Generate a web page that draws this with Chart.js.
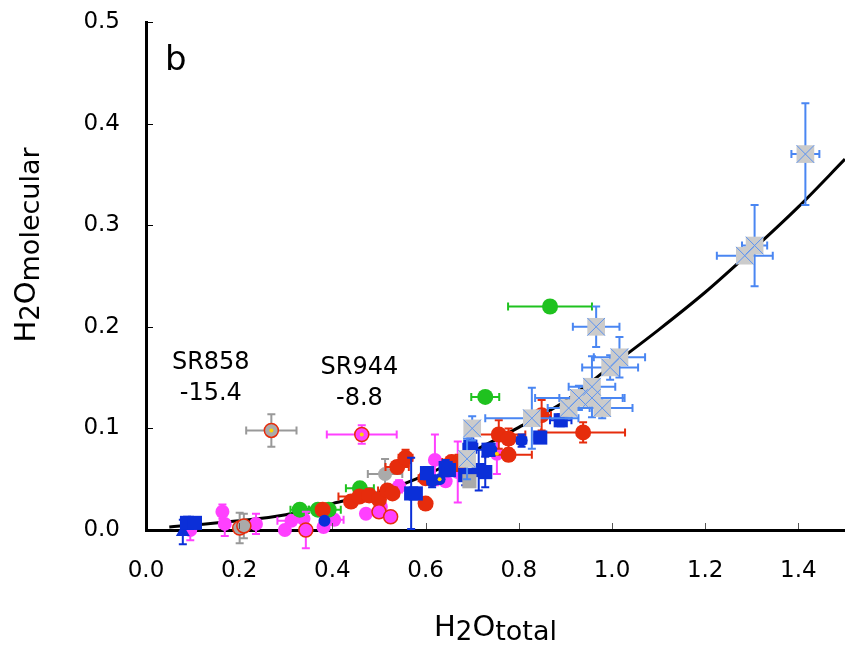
<!DOCTYPE html>
<html><head><meta charset="utf-8">
<script src="https://cdn.jsdelivr.net/npm/chart.js@4/dist/chart.umd.min.js"></script>
<style>html,body{margin:0;padding:0;background:#fff}canvas{display:block}</style>
</head><body>
<canvas id="c" width="845" height="647"></canvas>
<script>
// Each point: [H2O total, H2O molecular, x error, y error]
const crossedSquares = [
  [1.415,0.370,0.03,0.05],[1.306,0.280,0.027,0.04],[1.285,0.270,0.06,0.006],
  [0.966,0.200,0.05,0.02],[1.016,0.170,0.055,0.02],[0.996,0.160,0.06,0.012],
  [0.957,0.141,0.05,0.03],[0.929,0.130,0.094,0.012],[0.957,0.130,0.07,0.01],
  [0.979,0.120,0.065,0.01],[0.907,0.120,0.045,0.01],[0.828,0.110,0.10,0.03],
  [0.700,0.100,0.015,0.012],[0.689,0.070,0.012,0.02]
];
const blueSquares = [
  [0.088,0.007,0,0.006],[0.105,0.007,0,0],[0.569,0.036,0,0.035],[0.579,0.036,0.01,0],
  [0.603,0.056,0.01,0.006],[0.643,0.061,0.01,0.008],[0.650,0.059,0,0],[0.685,0.054,0.01,0.01],
  [0.696,0.082,0.015,0.008],[0.714,0.059,0.01,0.02],[0.728,0.057,0.01,0.015],
  [0.735,0.079,0.01,0.006],[0.846,0.091,0.012,0.005],[0.890,0.108,0.023,0.006]
];
const blueCircles = [
  [0.383,0.009,0,0],[0.614,0.048,0.01,0.006],[0.630,0.050,0,0],[0.741,0.079,0,0.006],
  [0.806,0.088,0.01,0.006]
];
const blueTriangles = [[0.079,-0.002,0,0.012]];
const redCircles = [
  [0.379,0.020,0,0],[0.440,0.028,0,0],[0.458,0.033,0.045,0.005],[0.479,0.034,0,0.006],
  [0.500,0.030,0,0],[0.518,0.039,0.02,0],[0.529,0.036,0,0],[0.539,0.062,0.025,0.006],
  [0.557,0.071,0.015,0.008],[0.600,0.051,0.015,0.006],[0.600,0.026,0,0],
  [0.656,0.067,0.02,0.006],[0.671,0.066,0,0.008],[0.757,0.094,0.057,0.014],
  [0.778,0.090,0.02,0.01],[0.778,0.074,0.05,0.006],[0.849,0.113,0.02,0.015],
  [0.938,0.096,0.09,0.01]
];
const magentaCircles = [
  [0.095,0.000,0,0.01],[0.164,0.018,0,0.007],[0.169,0.006,0,0.012],[0.236,0.006,0,0.01],
  [0.298,0.000,0,0],[0.312,0.009,0.03,0],[0.338,0.011,0,0],[0.381,0.003,0,0],
  [0.404,0.010,0.02,0.005],[0.472,0.016,0,0],[0.504,0.023,0,0],[0.543,0.043,0,0.006],
  [0.620,0.069,0,0.025],[0.643,0.048,0,0],[0.669,0.057,0,0.03],[0.753,0.075,0,0.02]
];
const magentaRinged = [[0.343,0.000,0,0.018],[0.500,0.018,0,0],[0.525,0.013,0,0],[0.463,0.094,0.075,0.009]];
const greenCircles = [
  [0.330,0.020,0.02,0],[0.369,0.020,0.02,0],[0.392,0.020,0.026,0],[0.459,0.041,0.03,0],
  [0.728,0.131,0.03,0],[0.867,0.220,0.09,0]
];
const grayCircles = [[0.513,0.055,0.037,0.015]];
const grayRinged = [[0.201,0.002,0,0.015],[0.210,0.004,0,0.012],[0.269,0.098,0.054,0.016]];
const graySquares = [[0.694,0.048,0,0]];
const yellowDots = [[0.269,0.098],[0.463,0.094],[0.630,0.050],[0.753,0.075]];
// speciation model curve
const curveX = [0.05,0.1,0.2,0.3,0.4,0.5,0.6,0.7,0.8,0.9,1.0,1.1,1.2,1.3,1.4,1.5];
const curveY = [0.003,0.005,0.009,0.015,0.026,0.037,0.054,0.077,0.101,0.127,0.162,0.197,0.234,0.275,0.318,0.365];
// axes
const xTickValues = [0,0.2,0.4,0.6,0.8,1.0,1.2,1.4];
const yTickValues = [0,0.1,0.2,0.3,0.4,0.5];
const annotations = [
  {text:'SR858', x:0.139, y:0.165},{text:'-15.4', x:0.139, y:0.134},
  {text:'SR944', x:0.458, y:0.160},{text:'-8.8', x:0.458, y:0.129}
];

const FONT = 'DejaVu Sans';
const toPts = a => a.map(p => ({x:p[0], y:p[1], xe:p[2]||0, ye:p[3]||0}));

function ds(label, arr, opts) {
  return Object.assign({label, data: toPts(arr), clip: false, showLine: false, borderWidth: 0}, opts);
}

const RED='#e62c0c', MAG='#ff40ff', GREEN='#1fc21f', DBLUE='#0b2fd8', LBLUE='#4a86f2', GRAY='#aaaaaa';

const datasets = [
  ds('yellow', yellowDots, {order:0, pointStyle:'circle', pointRadius:2, backgroundColor:'#ffd400'}),
  ds('crossX', crossedSquares, {order:1, pointStyle:'crossRot', pointRadius:12.5, borderColor:'#5b93f2', borderWidth:1}),
  ds('crossSq', crossedSquares, {order:2, pointStyle:'rect', pointRadius:12.5, backgroundColor:'#cbcbcb', errColor:LBLUE}),
  ds('grayRinged', grayRinged, {order:3, pointStyle:'circle', pointRadius:7, backgroundColor:GRAY, borderColor:RED, borderWidth:1.5, errColor:'#999999'}),
  ds('magRinged', magentaRinged, {order:3, pointStyle:'circle', pointRadius:7, backgroundColor:MAG, borderColor:RED, borderWidth:1.5, errColor:MAG}),
  ds('graySq', graySquares, {order:4, pointStyle:'rect', pointRadius:10, backgroundColor:GRAY}),
  ds('blueSq', blueSquares, {order:5, pointStyle:'rect', pointRadius:10, backgroundColor:DBLUE, errColor:DBLUE}),
  ds('blueCirc', blueCircles, {order:5, pointStyle:'circle', pointRadius:6, backgroundColor:DBLUE, errColor:DBLUE}),
  ds('red', redCircles, {order:6, pointStyle:'circle', pointRadius:8, backgroundColor:RED, errColor:RED}),
  ds('blueTri', blueTriangles, {order:6, pointStyle:'triangle', pointRadius:8, backgroundColor:DBLUE, errColor:DBLUE}),
  ds('green', greenCircles, {order:7, pointStyle:'circle', pointRadius:8, backgroundColor:GREEN, errColor:GREEN}),
  ds('gray', grayCircles, {order:7, pointStyle:'circle', pointRadius:7, backgroundColor:GRAY, errColor:'#999999'}),
  ds('magenta', magentaCircles, {order:8, pointStyle:'circle', pointRadius:7, backgroundColor:MAG, errColor:MAG}),
  {label:'model', type:'line', order:9, data: curveX.map((x,i)=>({x, y:curveY[i]})), borderColor:'#000', borderWidth:3,
   pointRadius:0, fill:false, cubicInterpolationMode:'monotone', clip:false}
];

const errorBars = {
  id:'errorBars',
  beforeDatasetDraw(chart, args) {
    const d = chart.data.datasets[args.index];
    if (!d.errColor) return;
    const xs = chart.scales.x, ys = chart.scales.y, ctx = chart.ctx, cap = 4;
    ctx.save();
    ctx.strokeStyle = d.errColor; ctx.lineWidth = 2;
    d.data.forEach(p => {
      const px = xs.getPixelForValue(p.x), py = ys.getPixelForValue(p.y);
      ctx.beginPath();
      if (p.xe) {
        const a = xs.getPixelForValue(p.x - p.xe), b = xs.getPixelForValue(p.x + p.xe);
        ctx.moveTo(a, py); ctx.lineTo(b, py);
        ctx.moveTo(a, py-cap); ctx.lineTo(a, py+cap);
        ctx.moveTo(b, py-cap); ctx.lineTo(b, py+cap);
      }
      if (p.ye) {
        const a = ys.getPixelForValue(p.y - p.ye), b = ys.getPixelForValue(p.y + p.ye);
        ctx.moveTo(px, a); ctx.lineTo(px, b);
        ctx.moveTo(px-cap, a); ctx.lineTo(px+cap, a);
        ctx.moveTo(px-cap, b); ctx.lineTo(px+cap, b);
      }
      ctx.stroke();
    });
    ctx.restore();
  }
};

function drawSubText(ctx, parts, x, y, align) {
  // parts: [text, size, dy]
  let w = 0;
  parts.forEach(p => { ctx.font = p[1] + 'px "' + FONT + '"'; w += ctx.measureText(p[0]).width; });
  let cx = align === 'center' ? x - w/2 : x;
  parts.forEach(p => {
    ctx.font = p[1] + 'px "' + FONT + '"';
    ctx.fillText(p[0], cx, y + p[2]);
    cx += ctx.measureText(p[0]).width;
  });
}

const decorations = {
  id:'decorations',
  afterDraw(chart) {
    const ctx = chart.ctx, xs = chart.scales.x, ys = chart.scales.y, area = chart.chartArea;
    ctx.save();
    // inner tick marks
    ctx.lineWidth = 1;
    ctx.strokeStyle = '#555';
    xs.ticks.forEach(t => {
      const px = Math.round(xs.getPixelForValue(t.value)) + 0.5;
      if (t.value === 0) return;
      ctx.beginPath(); ctx.moveTo(px, area.bottom - 1); ctx.lineTo(px, area.bottom - 7); ctx.stroke();
    });
    ctx.strokeStyle = '#000';
    ys.ticks.forEach(t => {
      const py = Math.round(ys.getPixelForValue(t.value)) + 0.5;
      if (t.value === 0) return;
      ctx.beginPath(); ctx.moveTo(area.left + 1, py); ctx.lineTo(area.left + 7, py); ctx.stroke();
    });
    ctx.fillStyle = '#000';
    ctx.textBaseline = 'alphabetic';
    // panel letter
    ctx.font = '34px "' + FONT + '"';
    ctx.textAlign = 'left';
    ctx.fillText('b', area.left + 19, area.top + 48);
    // annotations
    ctx.font = '24px "' + FONT + '"';
    ctx.textAlign = 'center';
    ctx.textBaseline = 'middle';
    annotations.forEach(a => ctx.fillText(a.text, xs.getPixelForValue(a.x), ys.getPixelForValue(a.y)));
    // axis titles
    ctx.textAlign = 'left';
    ctx.textBaseline = 'alphabetic';
    drawSubText(ctx, [['H',29,0],['2',26,4],['O',29,0],['total',27,4]], (area.left + area.right)/2, 636, 'center');
    ctx.save();
    ctx.translate(35, 245);
    ctx.rotate(-Math.PI/2);
    drawSubText(ctx, [['H',29,0],['2',26,4],['O',29,0],['molecular',27,4]], 0, 0, 'center');
    ctx.restore();
    ctx.restore();
  }
};

new Chart(document.getElementById('c'), {
  type:'scatter',
  data:{datasets},
  options:{
    responsive:false, devicePixelRatio:1, animation:false,
    layout:{autoPadding:false, padding:{top:22, right:0, left:0, bottom:0}},
    plugins:{legend:{display:false}, tooltip:{enabled:false}},
    scales:{
      x:{type:'linear', min:0, max:1.5,
        afterBuildTicks: s => { s.ticks = xTickValues.map(v => ({value:v})); },
        afterFit: s => { s.height = 117; s.paddingLeft = 0; s.paddingRight = 0; },
        grid:{display:false, drawTicks:false},
        border:{display:true, color:'#000', width:3},
        ticks:{padding:27, color:'#000', font:{family:FONT, size:23}, callback: v => Number(v).toFixed(1), maxRotation:0, autoSkip:false}
      },
      y:{type:'linear', min:0, max:0.5,
        afterBuildTicks: s => { s.ticks = yTickValues.map(v => ({value:v})); },
        afterFit: s => { s.width = 146; s.paddingTop = 0; s.paddingBottom = 0; },
        grid:{display:false, drawTicks:false},
        border:{display:true, color:'#000', width:3},
        ticks:{padding:26, color:'#000', font:{family:FONT, size:23}, callback: v => Number(v).toFixed(1), autoSkip:false}
      }
    }
  },
  plugins:[errorBars, decorations]
});
</script>
</body></html>
